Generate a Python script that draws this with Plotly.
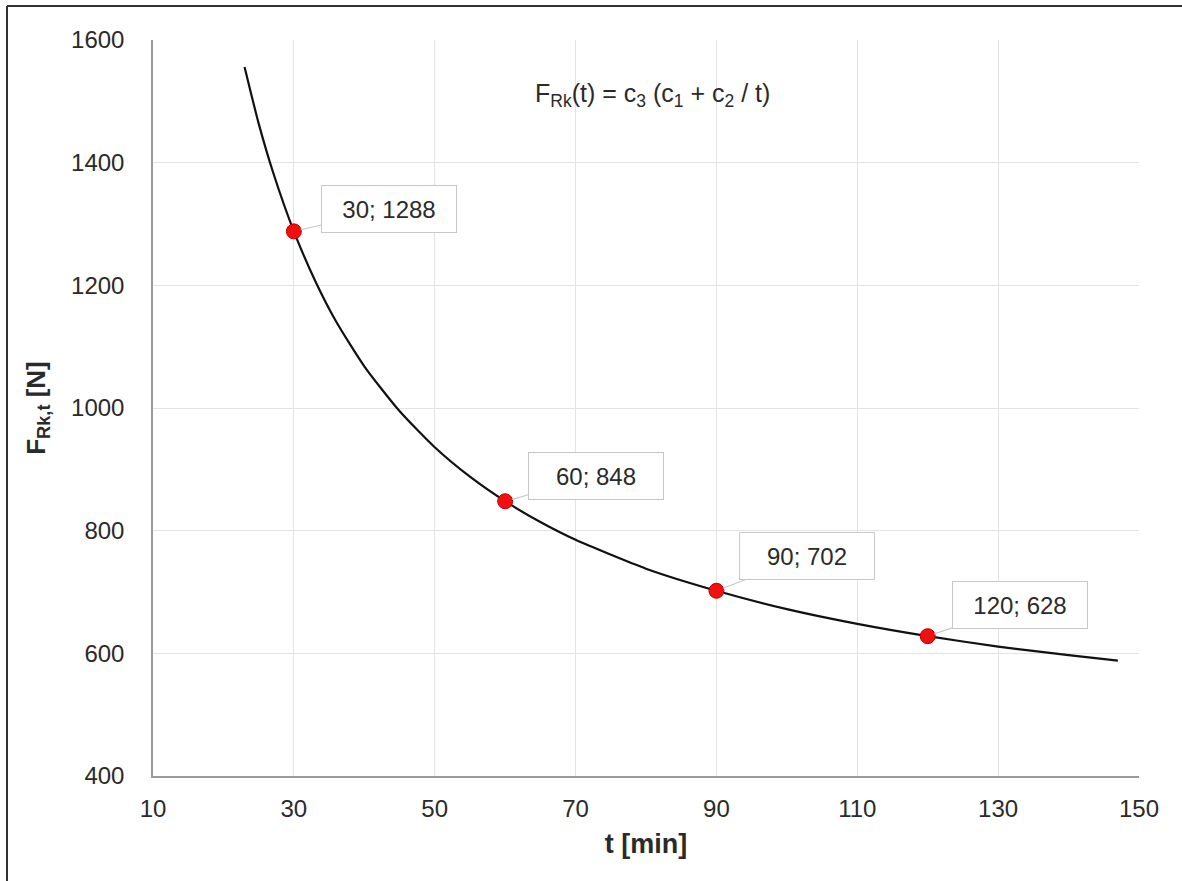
import plotly.graph_objects as go

# Curve values
curve_t = [23, 25, 27, 30, 33, 36, 40, 45, 50, 55, 60, 65, 70, 80, 90, 100, 110, 120, 130, 140, 147]
curve_f = [1556, 1464, 1386, 1288, 1208, 1141, 1068, 995, 936, 888, 848, 814, 785, 738, 702, 672, 648, 628, 611, 597, 588]

# Marked points
point_t = [30, 60, 90, 120]
point_f = [1288, 848, 702, 628]
point_labels = ["30; 1288", "60; 848", "90; 702", "120; 628"]

x_ticks = [10, 30, 50, 70, 90, 110, 130, 150]
y_ticks = [400, 600, 800, 1000, 1200, 1400, 1600]

FONT = "Liberation Sans, Arial, sans-serif"
TXT = "#2a2a2a"

fig = go.Figure()
fig.add_trace(go.Scatter(
    x=curve_t, y=curve_f, mode="lines", line=dict(color="#111111", width=2.2, shape="spline", smoothing=0.6),
    hoverinfo="skip", showlegend=False))
fig.add_trace(go.Scatter(
    x=point_t, y=point_f, mode="markers",
    marker=dict(color="#f01010", size=15, line=dict(color="#c00000", width=1)),
    showlegend=False))

# callout offsets in pixels (box center relative to point)
offsets = [(95, -22), (91, -25), (91, -35), (92, -31)]
for t, f, lab, (ax, ay) in zip(point_t, point_f, point_labels, offsets):
    fig.add_annotation(
        x=t, y=f, xref="x", yref="y", text=lab, showarrow=True,
        ax=ax, ay=ay, axref="pixel", ayref="pixel",
        arrowhead=0, arrowwidth=1.2, arrowcolor="#c8c8c8", standoff=7,
        bgcolor="white", bordercolor="#c8c8c8", borderwidth=1, borderpad=10,
        width=114, height=26,
        font=dict(family=FONT, size=24, color=TXT))

fig.add_annotation(
    x=(652 - 153) / 986, y=(776 - 77) / 736, xref="paper", yref="paper",
    text="F<sub>Rk</sub>(t) = c<sub>3</sub> (c<sub>1</sub> + c<sub>2</sub> / t)",
    showarrow=False, font=dict(family=FONT, size=25, color=TXT))

# outer frame (top and left visible)
fig.add_shape(type="line", xref="paper", yref="paper",
              x0=(7 - 153) / 986, x1=(1182 - 153) / 986, y0=(776 - 6) / 736, y1=(776 - 6) / 736,
              line=dict(color="#333333", width=2))
fig.add_shape(type="line", xref="paper", yref="paper",
              x0=(7 - 153) / 986, x1=(7 - 153) / 986, y0=(776 - 6) / 736, y1=(776 - 881) / 736,
              line=dict(color="#333333", width=2))

fig.update_layout(
    width=1182, height=881,
    margin=dict(l=153, r=43, t=40, b=105),
    paper_bgcolor="white", plot_bgcolor="white",
    font=dict(family=FONT, size=24, color=TXT),
    xaxis=dict(range=[10, 150], tickvals=x_ticks, showgrid=True, gridcolor="#e3e3e3", gridwidth=1,
               showline=True, linecolor="#9a9a9a", linewidth=1.5, zeroline=False,
               ticks="", ticklabelstandoff=10, tickfont=dict(size=24, color=TXT),
               title=dict(text="<b>t [min]</b>", font=dict(size=27, color=TXT), standoff=14)),
    yaxis=dict(range=[400, 1600], tickvals=y_ticks, showgrid=True, gridcolor="#e3e3e3", gridwidth=1,
               showline=True, linecolor="#9a9a9a", linewidth=1.5, zeroline=False,
               ticks="", ticklabelstandoff=22, tickfont=dict(size=24, color=TXT),
               title=dict(text="<b>F<sub>Rk,t</sub> [N]</b>", font=dict(size=26, color=TXT), standoff=18)),
)

fig.write_html("out.html")
